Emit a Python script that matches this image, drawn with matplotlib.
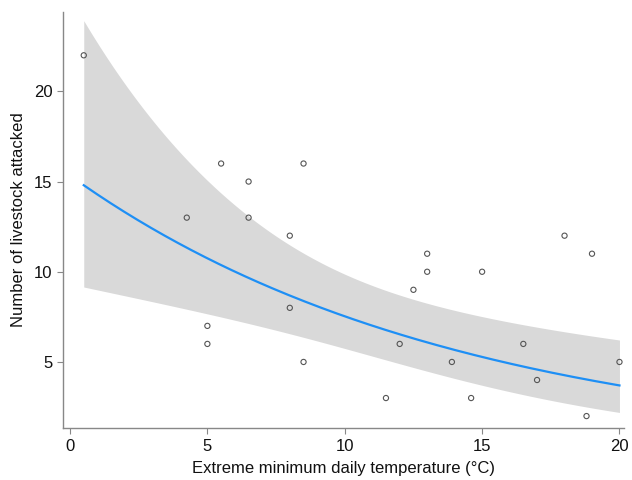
import numpy as np
import matplotlib.pyplot as plt

plt.rcParams['font.family'] = ['Liberation Sans', 'DejaVu Sans']

# Observed data: temperature (°C) vs. livestock attacked
temp = [0.5, 4.25, 5.0, 5.0, 5.5, 6.5, 6.5, 8.0, 8.0, 8.5, 8.5, 11.5, 12.0,
        12.5, 13.0, 13.0, 13.9, 14.6, 15.0, 16.5, 17.0, 18.0, 18.8, 19.0, 20.0]
attacked = [22, 13, 7, 6, 16, 15, 13, 12, 8, 16, 5, 3, 6,
            9, 11, 10, 5, 3, 10, 6, 4, 12, 2, 11, 5]

intercept = 2.73
slope = -0.0711
var_intercept = 0.0646
cov_int_slope = -0.0047
var_slope = 0.000484

x = np.linspace(min(temp), max(temp), 200)
eta = intercept + slope * x
se = np.sqrt(var_intercept + 2 * cov_int_slope * x + var_slope * x ** 2)
fit = np.exp(eta)
lo = np.exp(eta - 1.96 * se)
hi = np.exp(eta + 1.96 * se)

fig = plt.figure(figsize=(6.32, 4.8), dpi=100)
ax = fig.add_axes([0.0997, 0.108, 0.887, 0.867])

ax.fill_between(x, lo, hi, color='#d9d9d9', linewidth=0)
ax.plot(x, fit, color='#1e8ff5', linewidth=1.6)
ax.scatter(temp, attacked, s=14, facecolors='none', edgecolors='#555555',
           linewidths=0.8, zorder=3)

ax.set_xlim(-0.255, 20.15)
ax.set_ylim(1.33, 24.4)
ax.set_xticks([0, 5, 10, 15, 20])
ax.set_yticks([5, 10, 15, 20])

for side in ['top', 'right']:
    ax.spines[side].set_visible(False)
for side in ['left', 'bottom']:
    ax.spines[side].set_color('#888888')
    ax.spines[side].set_linewidth(1.0)
ax.tick_params(colors='#888888', labelcolor='#111111', labelsize=12,
               length=4, width=0.8)

ax.set_xlabel('Extreme minimum daily temperature (°C)', fontsize=12,
              color='#111111', labelpad=5)
ax.set_ylabel('Number of livestock attacked', fontsize=12,
              color='#111111', labelpad=6)

fig.savefig('out.png', dpi=100)
